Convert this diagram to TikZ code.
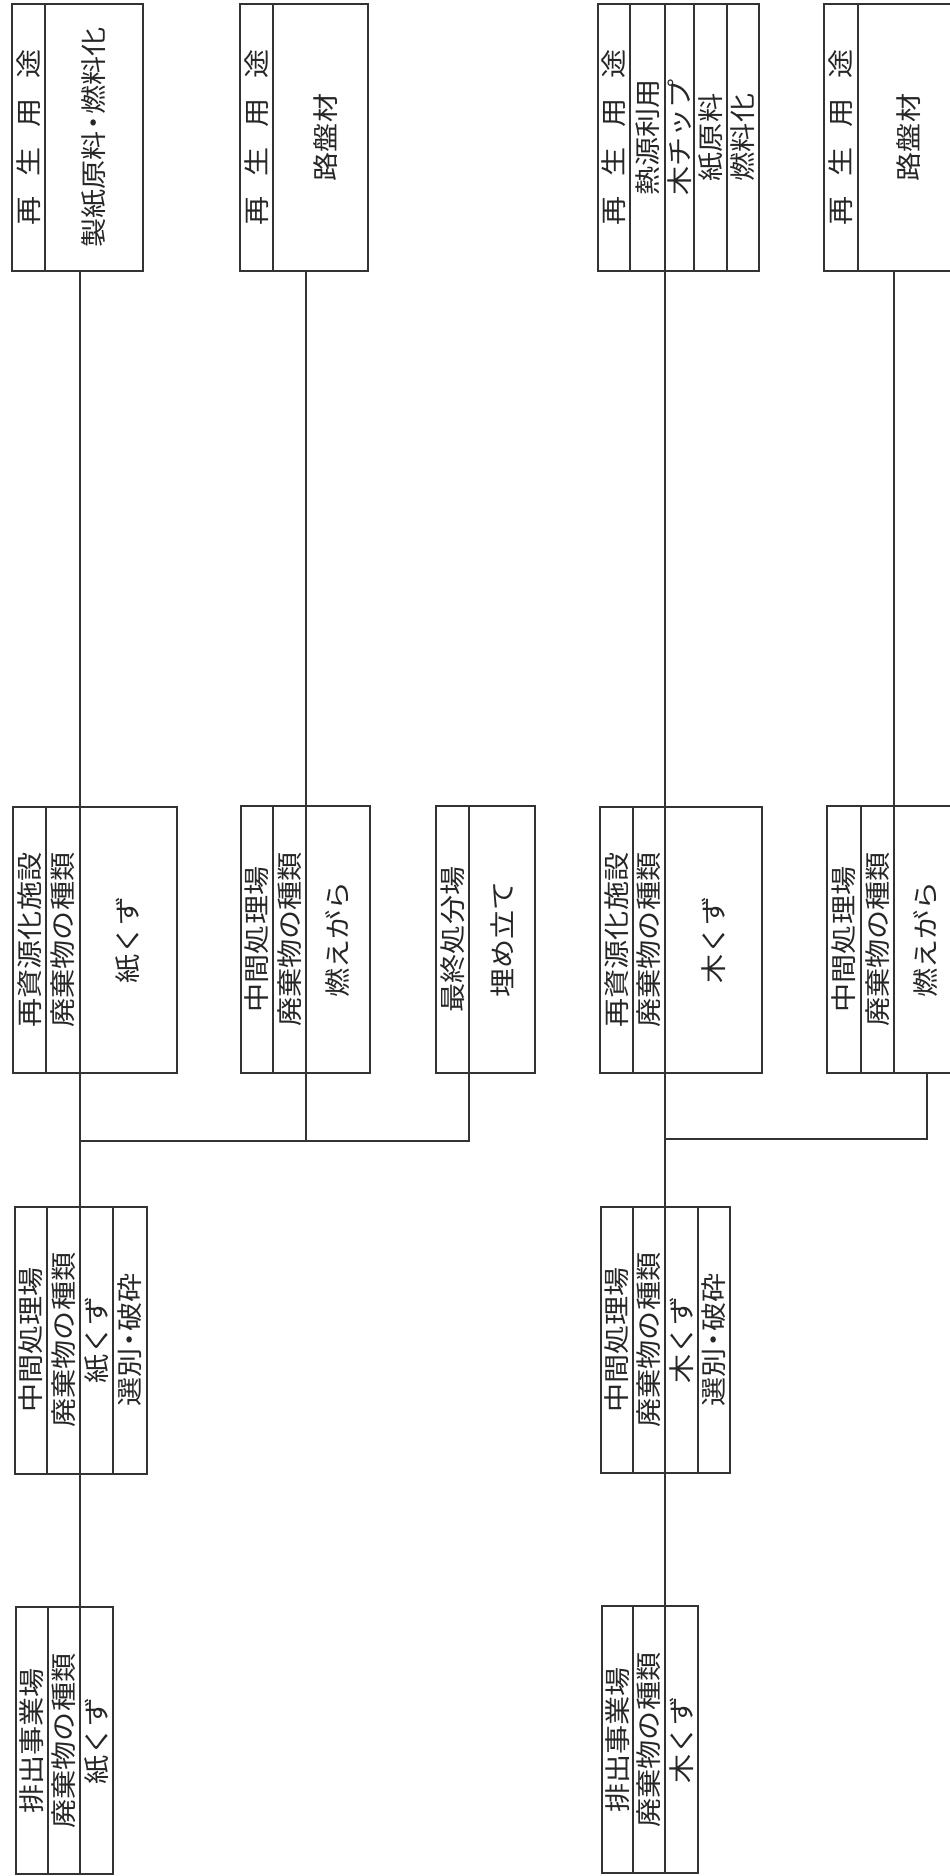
\documentclass[tikz,border=0pt]{standalone}
\usepackage{fontspec}
\setmainfont{Noto Sans CJK JP}[FakeStretch=1.12]
\usetikzlibrary{calc}

\begin{document}
\begin{tikzpicture}[x=1pt, y=-1pt, line width=1.4pt,
  box/.style={draw=black!80, rectangle, anchor=north west, inner sep=0pt, outer sep=0pt},
  lbl/.style={rotate=90, font=\fontsize{26}{30}\selectfont, text=black!85, inner sep=0pt},
  link/.style={draw=black!80}]
\useasboundingbox (0,0) rectangle (950,1876);
\clip (0,0) rectangle (950,1876);

% paper
\node[box, minimum width=97pt, minimum height=267pt] (srcA) at (16,1607) {};
\foreach \x in {48,80} \draw[black!80] (\x,1607) -- (\x,1874);
\node[lbl] (srcA-1) at (32,1741) {排出事業場};
\node[lbl] (srcA-2) at (64,1741) {廃棄物の種類};
\node[lbl] (srcA-3) at (96.5,1741) {紙くず};

\node[box, minimum width=132pt, minimum height=267pt] (midA) at (15,1207) {};
\foreach \x in {47,80,113} \draw[black!80] (\x,1207) -- (\x,1474);
\node[lbl] (midA-1) at (31,1340) {中間処理場};
\node[lbl] (midA-2) at (63.5,1340) {廃棄物の種類};
\node[lbl] (midA-3) at (96.5,1340) {紙くず};
\node[lbl] (midA-4) at (130,1340) {選別\kern-.25em・\kern-.25em破砕};

\node[box, minimum width=164pt, minimum height=266pt] (recA) at (13,807) {};
\foreach \x in {46,80} \draw[black!80] (\x,807) -- (\x,1073);
\node[lbl] (recA-1) at (29.5,940) {再資源化施設};
\node[lbl] (recA-2) at (63,940) {廃棄物の種類};
\node[lbl] (recA-3) at (128,940) {紙くず};

\node[box, minimum width=131pt, minimum height=267pt] (useA) at (12,4) {};
\draw[black!80] (45,4) -- (45,271);
\node[lbl] (useA-1) at (28.5,137.5) {再\hspace{20pt}生\hspace{20pt}用\hspace{20pt}途};
\node[lbl] (useA-2) at (94,137.5) {製紙原料\kern-.25em・\kern-.25em燃料化};

\node[box, minimum width=129pt, minimum height=267pt] (ashA) at (241,806) {};
\foreach \x in {273,306} \draw[black!80] (\x,806) -- (\x,1073);
\node[lbl] (ashA-1) at (257,939.5) {中間処理場};
\node[lbl] (ashA-2) at (289.5,939.5) {廃棄物の種類};
\node[lbl] (ashA-3) at (338,939.5) {燃えがら};

\node[box, minimum width=128pt, minimum height=267pt] (roadA) at (240,4) {};
\draw[black!80] (273,4) -- (273,271);
\node[lbl] (roadA-1) at (256.5,137.5) {再\hspace{20pt}生\hspace{20pt}用\hspace{20pt}途};
\node[lbl] (roadA-2) at (326,137.5) {路盤材};

\node[box, minimum width=99pt, minimum height=267pt] (landA) at (436,806) {};
\draw[black!80] (469,806) -- (469,1073);
\node[lbl] (landA-1) at (452.5,939.5) {最終処分場};
\node[lbl] (landA-2) at (502,939.5) {埋め立て};

\coordinate (jA) at (80,1141);
\coordinate (kA) at (306,1141);
\coordinate (lA) at (469,1141);
\path[link] (useA.south -| jA) -- (recA.north -| jA)
  (recA.south -| jA) -- (midA.north -| jA)
  (midA.south -| jA) -- (srcA.north -| jA)
  (jA) -- (lA) -- (landA.south -| lA)
  (kA) -- (ashA.south -| kA)
  (roadA.south -| kA) -- (ashA.north -| kA);

% wood
\node[box, minimum width=96pt, minimum height=267pt] (srcB) at (602,1606) {};
\foreach \x in {633,665} \draw[black!80] (\x,1606) -- (\x,1873);
\node[lbl] (srcB-1) at (617.5,1740) {排出事業場};
\node[lbl] (srcB-2) at (649,1740) {廃棄物の種類};
\node[lbl] (srcB-3) at (682,1740) {木くず};

\node[box, minimum width=129pt, minimum height=266pt] (midB) at (601,1207) {};
\foreach \x in {633,665,698} \draw[black!80] (\x,1207) -- (\x,1473);
\node[lbl] (midB-1) at (617,1340) {中間処理場};
\node[lbl] (midB-2) at (649,1340) {廃棄物の種類};
\node[lbl] (midB-3) at (682,1340) {木くず};
\node[lbl] (midB-4) at (714,1340) {選別\kern-.25em・\kern-.25em破砕};

\node[box, minimum width=162pt, minimum height=266pt] (recB) at (600,807) {};
\foreach \x in {633,665} \draw[black!80] (\x,807) -- (\x,1073);
\node[lbl] (recB-1) at (616.5,940) {再資源化施設};
\node[lbl] (recB-2) at (649,940) {廃棄物の種類};
\node[lbl] (recB-3) at (713.5,940) {木くず};

\node[box, minimum width=161pt, minimum height=267pt] (useB) at (598,4) {};
\foreach \x in {630,665,694,727} \draw[black!80] (\x,4) -- (\x,271);
\node[lbl] (useB-1) at (614,137.5) {再\hspace{20pt}生\hspace{20pt}用\hspace{20pt}途};
\node[lbl] (useB-2) at (647.5,137.5) {熱源利用};
\node[lbl] (useB-3) at (679.5,137.5) {木チップ};
\node[lbl] (useB-4) at (710.5,137.5) {紙原料};
\node[lbl] (useB-5) at (743,137.5) {燃料化};

\node[box, minimum width=129pt, minimum height=267pt] (ashB) at (827,806) {};
\foreach \x in {861,894} \draw[black!80] (\x,806) -- (\x,1073);
\node[lbl] (ashB-1) at (844,939.5) {中間処理場};
\node[lbl] (ashB-2) at (877.5,939.5) {廃棄物の種類};
\node[lbl] (ashB-3) at (926,939.5) {燃えがら};

\node[box, minimum width=128pt, minimum height=267pt] (roadB) at (824,4) {};
\draw[black!80] (858,4) -- (858,271);
\node[lbl] (roadB-1) at (841,137.5) {再\hspace{20pt}生\hspace{20pt}用\hspace{20pt}途};
\node[lbl] (roadB-2) at (909,137.5) {路盤材};

\coordinate (jB) at (665,1139);
\coordinate (kB) at (927,1139);
\coordinate (mB) at (894,0);
\path[link] (useB.south -| jB) -- (recB.north -| jB)
  (recB.south -| jB) -- (midB.north -| jB)
  (midB.south -| jB) -- (srcB.north -| jB)
  (jB) -- (kB) -- (ashB.south -| kB)
  (roadB.south -| mB) -- (ashB.north -| mB);
\end{tikzpicture}
\end{document}
